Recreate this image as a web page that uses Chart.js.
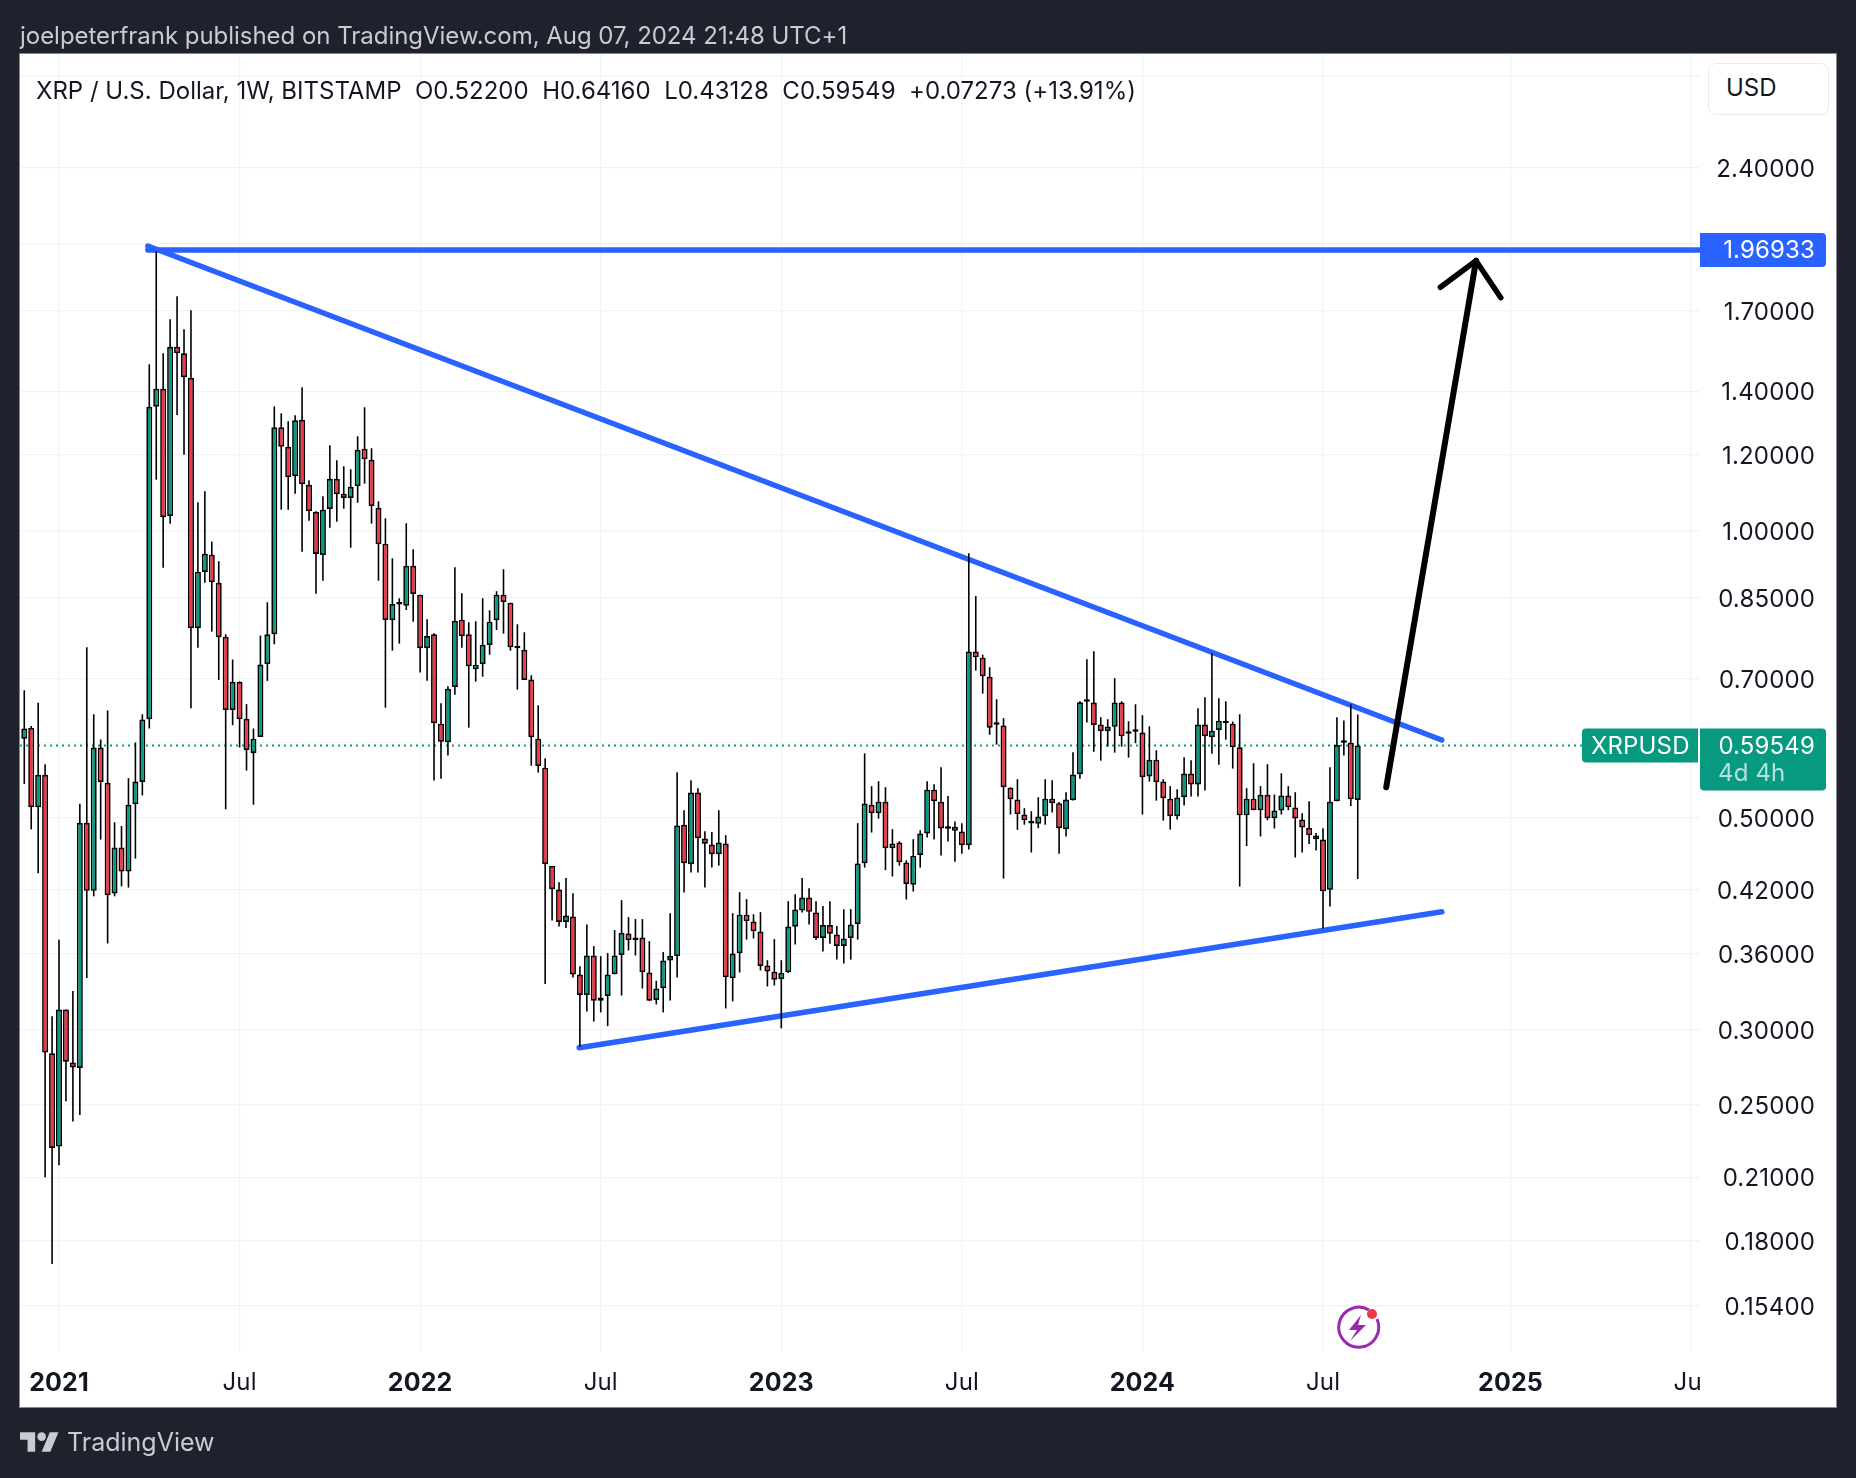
<!DOCTYPE html>
<html>
<head>
<meta charset="utf-8">
<title>XRP / U.S. Dollar</title>
<script src="https://cdn.jsdelivr.net/npm/chart.js@4/dist/chart.umd.js"></script>
<style>
  html, body { margin: 0; padding: 0; background: #1e222d; font-family: Inter, "Noto Sans", sans-serif; }
  #page { position: relative; width: 1856px; height: 1478px; overflow: hidden; background: #1e222d; }
  #panel { position: absolute; left: 20px; top: 54px; width: 1816px; height: 1353px; background: #fff; box-shadow: 0 0 0 1px #858892; }
  #chart { position: absolute; left: 0; top: 0; }
  .txt { position: absolute; white-space: pre; line-height: 30px; font-size: 24px; }
  #author { left: 20px; top: 21px; color: #c8cad4; letter-spacing: -0.03px; }
  #legend { left: 36px; top: 76px; color: #131722; letter-spacing: 0.01px; }
  #usd { position: absolute; left: 1708px; top: 63px; width: 119px; height: 50px; border: 1px solid #e9ebef; border-radius: 8px; background: #fff; }
  #usdtext { left: 1726px; top: 73px; color: #131722; }
  #brand { left: 67px; top: 1427px; color: #c8cad4; font-size: 25px; }
  #logo { position: absolute; left: 20px; top: 1432px; }
  #bolt { position: absolute; left: 1330px; top: 1301px; }
</style>
</head>
<body>
<div id="page">
  <div id="panel"></div>
  <canvas id="chart" width="1856" height="1478"></canvas>
  <div class="txt" id="author">joelpeterfrank published on TradingView.com, Aug 07, 2024 21:48 UTC+1</div>
  <div class="txt" id="legend">XRP / U.S. Dollar, 1W, BITSTAMP  O0.52200  H0.64160  L0.43128  C0.59549  +0.07273 (+13.91%)</div>
  <div id="usd"></div>
  <div class="txt" id="usdtext">USD</div>
  <svg id="bolt" width="60" height="56" viewBox="0 0 60 56">
    <path d="M39 9 A20 20 0 1 0 47 18" fill="none" stroke="#9c27b0" stroke-width="3"/>
    <path d="M31 14 L19 29 L27 29 L20 40 L36 24 L28 24 Z" fill="#9c27b0"/>
    <circle cx="42" cy="13" r="5" fill="#f23645"/>
  </svg>
  <svg id="logo" width="39" height="20" viewBox="0 4 36 18">
    <path d="M14 22H7V11H0V4h14v18zM28 22h-8l7.5-18h8L28 22z" fill="#c8cad4"/>
    <circle cx="20" cy="8" r="4" fill="#c8cad4"/>
  </svg>
  <div class="txt" id="brand">TradingView</div>
</div>

<script>
var firstWeek = -5;

var opens = [
  .6053, .6215, .5129, .5547, .2832,
  .2261, .3148, .2770, .2734, .4940, .4192, .5926, .5441, .4166, .4654,
  .4392, .5167, .5453, .6344, 1.3488, 1.4088, 1.0361, 1.5591, 1.5345, 1.4467,
  .7901, .9051, .9437, .8820, .7741, .6487, .6943, .6351, .5847, .6078,
  .7246, .7787, 1.2834, 1.2247, 1.1402, 1.3072, 1.1174, 1.0469, .9430, 1.0537,
  1.1337, 1.0934, 1.0821, 1.1136, 1.2188, 1.1869, 1.0570, .9691, .8055, .8368,
  .8344, .9189, .8569, .7529, .7787, .6276, .6001, .6857, .8067, .7787,
  .7157, .7244, .7590, .8055, .8569, .8405, .7539, .7503, .6980, .6053,
  .5644, .4452, .4205, .3888, .3940, .3426, .3260, .3586, .3215, .3253,
  .3429, .3590, .3782, .3745, .3745, .3442, .3221, .3314, .3543, .3581,
  .4918, .4470, .5315, .4756, .4688, .4580, .4700, .3396, .3606, .3958,
  .3893, .3800, .3500, .3449, .3388, .3445, .3844, .3997, .4125, .3978,
  .3741, .3860, .3772, .3670, .3741, .3870, .4480, .5161, .5056, .5199,
  .4647, .4711, .4489, .4254, .4572, .4815, .5352, .5199, .4888, .4892,
  .4837, .4681, .7468, .7360, .7030, .6267, .6250, .5378, .5225, .5040,
  .4955, .4930, .5019, .5237, .5180, .4865, .5217, .5555, .6616, .6603,
  .6262, .6163, .6228, .6603, .6131, .6155, .6142, .5524, .5754, .5457,
  .5237, .5019, .5255, .5565, .5420, .6262, .6073, .6182, .6283, .6276,
  .5928, .5030, .5237, .5093, .5287, .4995, .5089, .5277, .5125, .4979,
  .4880, .4790, .4744, .4202, .5205, .6000, .5995, .5220
];

var closes = [
  .6203, .5129, .5547, .2837, .2254,
  .3148, .2775, .2737, .4940, .4192, .5926, .5453, .4148, .4654, .4392,
  .5161, .5458, .6338, 1.3488, 1.4088, 1.0329, 1.5591, 1.5345, 1.4481, .7901,
  .9058, .9460, .8829, .7732, .6487, .6943, .6344, .5890, .6053, .7239,
  .7787, 1.2834, 1.2247, 1.1375, 1.3054, 1.1185, 1.0479, .9453, 1.0520, 1.1337,
  1.0918, 1.0821, 1.1120, 1.2159, 1.1881, 1.0613, .9677, .8061, .8378, .8372,
  .9189, .8583, .7529, .7756, .6282, .6009, .6829, .8047, .7750, .7209,
  .7237, .7593, .8028, .8569, .8419, .7547, .7529, .6975, .6073, .5667,
  .4470, .4209, .3888, .3949, .3426, .3260, .3586, .3215, .3241, .3426,
  .3586, .3788, .3722, .3722, .3445, .3215, .3312, .3543, .3581, .4907,
  .4480, .5315, .4760, .4696, .4580, .4710, .3404, .3604, .3958, .3897,
  .3804, .3496, .3451, .3382, .3440, .3846, .4007, .4125, .3985, .3741,
  .3860, .3779, .3670, .3737, .3864, .4477, .5175, .5056, .5199, .4647,
  .4700, .4493, .4263, .4564, .4815, .5352, .5205, .4872, .4869, .4845,
  .4681, .7468, .7365, .7037, .6216, .6260, .5384, .5230, .5045, .4971,
  .4931, .5015, .5237, .5180, .4877, .5225, .5551, .6609, .6619, .6257,
  .6163, .6233, .6603, .6087, .6125, .6163, .5515, .5754, .5449, .5243,
  .5019, .5250, .5565, .5420, .6262, .6089, .6171, .6322, .6322, .5928,
  .5030, .5237, .5093, .5287, .4995, .5089, .5277, .5130, .4991, .4885,
  .4793, .4748, .4187, .5199, .5960, .5995, .5229, .59549
];

var highs = [
  .6803, .6241, .6600, .5689, .3097,
  .3725, .3148, .3291, .5172, .7545, .6420, .6041, .6479, .4946, .4901,
  .5503, .5998, .6420, 1.4943, 1.9628, 1.5345, 1.6658, 1.7607, 1.6259, 1.7024,
  1.0709, 1.0997, .9738, .9288, .7787, .7327, .6950, .6579, .6203, .7763,
  .8413, 1.3501, 1.3276, 1.3022, 1.3211, 1.4135, 1.1294, 1.0479, 1.0865, 1.2288,
  1.1853, 1.1681, 1.1598, 1.2558, 1.3469, 1.2200, 1.0735, 1.0304, .9355, .8495,
  1.0180, .9561, .8569, .8075, .7806, .6593, .6869, .9154, .8598, .8016,
  .8036, .8495, .8252, .8640, .9110, .8405, .7978, .7825, .7054, .6561,
  .5774, .4452, .4281, .4323, .4169, .3495, .3865, .3668, .3581, .3607,
  .3813, .4099, .3935, .3916, .3916, .3713, .3374, .3616, .3972, .5582,
  .5093, .5475, .5371, .4842, .4831, .5093, .4795, .3972, .4178, .4109,
  .3962, .3982, .3546, .3731, .3546, .4089, .4158, .4323, .4219, .4089,
  .4041, .4089, .3850, .4011, .4011, .4936, .5842, .5397, .5462, .5384,
  .4865, .4726, .4514, .4749, .4853, .5462, .5422, .5649, .5269, .4955,
  .4936, .9469, .8541, .7413, .7192, .6657, .6360, .5384, .5488, .5118,
  .5081, .5255, .5488, .5475, .5196, .5319, .5858, .6625, .7332, .7475,
  .6375, .6344, .7004, .6625, .6313, .6577, .6405, .6237, .5886, .5488,
  .5397, .5358, .5787, .5746, .6514, .6689, .7439, .6673, .6625, .6309,
  .6420, .5371, .5704, .5397, .5690, .5289, .5568, .5397, .5319, .5056,
  .5205, .4820, .4877, .5649, .6375, .6323, .6577, .6416
];

var lows = [
  .5426, .4862, .4374, .2100, .1703,
  .2162, .2523, .2403, .2440, .3397, .4137, .4744, .3692, .4137, .4238,
  .4225, .4532, .5278, .6203, 1.1310, .9145, 1.0171, 1.3221, 1.2012, .6512,
  .7538, .8820, .7837, .6975, .5104, .6254, .5926, .5604, .5161, .6078,
  .6958, .7601, 1.0520, 1.0520, 1.0934, .9506, 1.0245, .8590, .8863, 1.0072,
  1.0220, 1.0545, .9598, 1.0699, 1.1201, 1.0171, .8863, .6523, .7485, .7614,
  .8258, .8028, .7099, .6963, .5470, .5496, .5810, .6731, .7539, .6216,
  .6946, .7030, .7413, .7869, .7798, .7485, .6813, .6975, .5671, .5577,
  .3347, .3903, .3846, .3832, .3401, .2879, .3133, .3058, .3126, .3024,
  .3426, .3256, .3630, .3586, .3311, .3215, .3187, .3126, .3217, .3401,
  .4175, .4381, .4381, .4225, .4434, .4455, .3156, .3210, .3442, .3727,
  .3737, .3459, .3328, .3336, .3008, .3438, .3683, .3979, .3865, .3722,
  .3621, .3690, .3551, .3518, .3551, .3727, .4434, .4826, .4991, .4407,
  .4340, .4455, .4105, .4185, .4434, .4767, .4744, .4565, .4722, .4498,
  .4586, .4631, .7133, .6748, .6110, .5966, .4318, .5040, .4857, .4918,
  .4598, .4876, .4918, .5064, .4586, .4780, .5212, .5496, .6293, .5866,
  .5740, .5937, .5852, .5937, .5782, .5987, .5040, .5457, .5212, .4966,
  .4860, .4979, .5150, .5264, .5264, .5340, .5838, .5685, .6038, .5631,
  .4236, .4670, .5093, .4780, .4971, .4872, .5040, .5093, .4543, .4598,
  .4694, .4620, .3828, .4036, .5205, .5810, .5143, .43128
];

// week number counted from the first bar of 2021
var xTickWeeks = [0, 26, 52, 78, 104, 130, 156, 182, 209, 235];
// last label is cut off by the price axis in the original
var xTickLabels = ['2021', 'Jul', '2022', 'Jul', '2023', 'Jul', '2024', 'Jul', '2025', 'Ju '];

var gridPrices = [3.0, 2.4, 2.0, 1.7, 1.4, 1.2, 1.0, 0.85, 0.7, 0.6, 0.5, 0.42, 0.36, 0.3, 0.25, 0.21, 0.18, 0.154];
var hiddenPrices = [3.0, 2.0, 0.6];

var resistance = 1.96933;
var lastPrice = 0.59549;
var upperLine = [[12.8, 1.988], [199.1, 0.6034]];
var lowerLine = [[74.9, 0.287], [199.1, 0.3985]];
var arrowShaft = [[191.1, 0.5384], [204.03, 1.9188]];
var arrowHead = [[198.9, 1.7994], [204.03, 1.9188], [207.6, 1.7547]];

var xMin = -5.616;
var xMax = 236.28;
var yMin = 0.13772;
var yMax = 3.16;

var GREEN = '#089981';
var RED = '#f23645';
var BLUE = '#2962ff';

function toPoints(pairs) {
  return pairs.map(function (p) { return { x: p[0], y: p[1] }; });
}

function lineSet(pairs, color, width, order) {
  return {
    type: 'line',
    data: toPoints(pairs),
    borderColor: color,
    borderWidth: width,
    borderCapStyle: 'round',
    borderJoinStyle: 'round',
    pointRadius: 0,
    tension: 0,
    order: order
  };
}

var wicks = lows.map(function (l, i) { return { x: firstWeek + i, y: [l, highs[i]] }; });
var bodies = opens.map(function (o, i) { return { x: firstWeek + i, y: [o, closes[i]] }; });
var bodyColors = opens.map(function (o, i) { return closes[i] >= o ? GREEN : RED; });

var priceLine = lineSet([[xMin, lastPrice], [xMax, lastPrice]], GREEN, 2, 6);
priceLine.borderDash = [2, 4];
priceLine.borderCapStyle = 'butt';

// price tags on the right axis
var tagsPlugin = {
  id: 'priceTags',
  beforeDraw: function (chart) {
    chart.ctx.letterSpacing = '0.15px';
  },
  afterDraw: function (chart) {
    var ctx = chart.ctx;
    var y = chart.scales.y;
    var right = chart.chartArea.right;

    ctx.save();
    ctx.textBaseline = 'middle';
    ctx.font = '24px Inter';

    var ry = y.getPixelForValue(resistance);
    ctx.fillStyle = BLUE;
    ctx.beginPath();
    ctx.roundRect(right, ry - 17, 126, 34, [0, 4, 4, 0]);
    ctx.fill();
    ctx.fillStyle = '#fff';
    ctx.textAlign = 'right';
    ctx.fillText(resistance.toFixed(5), right + 115, ry + 1);

    var py = y.getPixelForValue(lastPrice);
    ctx.fillStyle = GREEN;
    ctx.beginPath();
    ctx.roundRect(right - 118, py - 17, 116, 34, [4, 0, 0, 4]);
    ctx.fill();
    ctx.beginPath();
    ctx.roundRect(right, py - 17, 126, 62, [0, 4, 4, 4]);
    ctx.fill();

    ctx.fillStyle = '#fff';
    ctx.textAlign = 'left';
    ctx.fillText('XRPUSD', right - 109, py + 1);
    ctx.textAlign = 'right';
    ctx.fillText(lastPrice.toFixed(5), right + 115, py + 1);
    ctx.fillStyle = 'rgba(255,255,255,0.7)';
    ctx.textAlign = 'left';
    ctx.fillText('4d 4h', right + 18, py + 28);
    ctx.restore();
  }
};

var ctxChart = document.getElementById('chart');
var myChart = new Chart(ctxChart, {
  type: 'bar',
  data: {
    datasets: [
      priceLine,
      lineSet([[12.8, resistance], [xMax, resistance]], BLUE, 5.5, 5),
      lineSet(upperLine, BLUE, 5.5, 5),
      lineSet(lowerLine, BLUE, 5.5, 5),
      {
        data: wicks,
        grouped: false,
        barThickness: 1.6,
        inflateAmount: 0,
        backgroundColor: '#000',
        order: 4
      },
      {
        data: bodies,
        grouped: false,
        barThickness: 6,
        minBarLength: 2.5,
        inflateAmount: 0,
        backgroundColor: bodyColors,
        borderColor: '#000',
        borderWidth: 1.7,
        borderSkipped: false,
        order: 3
      },
      lineSet(arrowShaft, '#000', 6, 2),
      lineSet(arrowHead, '#000', 5.5, 1)
    ]
  },
  options: {
    responsive: false,
    animation: false,
    devicePixelRatio: 1,
    layout: { padding: { left: 20, right: 41, top: 54, bottom: 71 } },
    plugins: { legend: { display: false }, tooltip: { enabled: false } },
    scales: {
      x: {
        type: 'linear',
        offset: false,
        bounds: 'data',
        min: xMin,
        max: xMax,
        border: { display: false },
        grid: { offset: false, color: '#f2f3f5', lineWidth: 1.3, drawTicks: false },
        afterBuildTicks: function (scale) {
          scale.ticks = xTickWeeks.map(function (w) { return { value: w }; });
        },
        afterFit: function (scale) { scale.height = 55; },
        ticks: {
          autoSkip: false,
          maxRotation: 0,
          padding: 16,
          color: '#131722',
          font: function (c) {
            var isYear = c.index % 2 === 0;
            return { family: 'Inter', size: isYear ? 25 : 24, weight: isYear ? '700' : '400' };
          },
          callback: function (value, index) { return xTickLabels[index]; }
        }
      },
      y: {
        type: 'logarithmic',
        position: 'right',
        bounds: 'data',
        beginAtZero: false,
        min: yMin,
        max: yMax,
        border: { display: false },
        grid: { color: '#f2f3f5', lineWidth: 1.3, drawTicks: false },
        afterBuildTicks: function (scale) {
          scale.ticks = gridPrices.map(function (p) { return { value: p }; });
        },
        afterFit: function (scale) { scale.width = 115; },
        ticks: {
          autoSkip: false,
          crossAlign: 'far',
          padding: 0,
          color: '#131722',
          // blank first line with a small line height nudges the label down onto its grid line
          font: { family: 'Inter', size: 24, lineHeight: '4px' },
          callback: function (value) {
            return hiddenPrices.indexOf(value) >= 0 ? '' : ['', value.toFixed(5)];
          }
        }
      }
    }
  },
  plugins: [tagsPlugin]
});
</script>
</body>
</html>
